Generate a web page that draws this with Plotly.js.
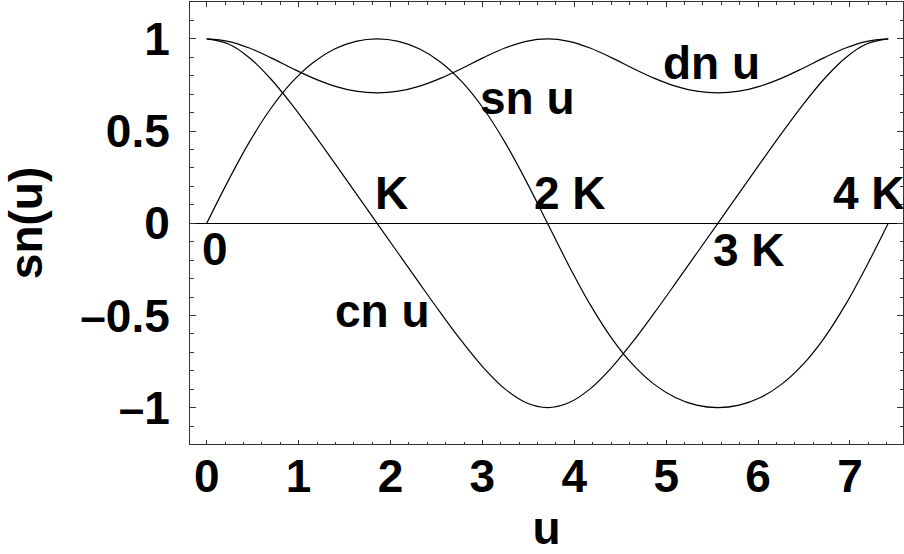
<!DOCTYPE html>
<html>
<head>
<meta charset="utf-8">
<script src="https://cdn.plot.ly/plotly-3.0.1.min.js"></script>
<style>html,body{margin:0;padding:0;background:#fff;}#chart{width:904px;height:554px;}</style>
</head>
<body>
<div id="chart"></div>
<script>
// u sampled at steps of K/8 (m = 1/2, K = 1.8541)
const u = [0, 0.2318, 0.4635, 0.6953, 0.9270, 1.1588, 1.3906, 1.6223, 1.8541,
  2.0858, 2.3176, 2.5494, 2.7811, 3.0129, 3.2446, 3.4764, 3.7081,
  3.9399, 4.1717, 4.4034, 4.6352, 4.8669, 5.0987, 5.3305, 5.5622,
  5.7940, 6.0257, 6.2575, 6.4893, 6.7210, 6.9528, 7.1845, 7.4163];
const snU = [0, 0.2287, 0.4400, 0.6210, 0.7654, 0.8724, 0.9449, 0.9865, 1,
  0.9865, 0.9449, 0.8724, 0.7654, 0.6210, 0.4400, 0.2287, 0,
  -0.2287, -0.4400, -0.6210, -0.7654, -0.8724, -0.9449, -0.9865, -1,
  -0.9865, -0.9449, -0.8724, -0.7654, -0.6210, -0.4400, -0.2287, 0];
const cnU = [1, 0.9735, 0.8980, 0.7838, 0.6436, 0.4888, 0.3274, 0.1638, 0,
  -0.1638, -0.3274, -0.4888, -0.6436, -0.7838, -0.8980, -0.9735, -1,
  -0.9735, -0.8980, -0.7838, -0.6436, -0.4888, -0.3274, -0.1638, 0,
  0.1638, 0.3274, 0.4888, 0.6436, 0.7838, 0.8980, 0.9735, 1];
const dnU = [1, 0.9868, 0.9504, 0.8984, 0.8409, 0.7871, 0.7440, 0.7165, 0.7071,
  0.7165, 0.7440, 0.7871, 0.8409, 0.8984, 0.9504, 0.9868, 1,
  0.9868, 0.9504, 0.8984, 0.8409, 0.7871, 0.7440, 0.7165, 0.7071,
  0.7165, 0.7440, 0.7871, 0.8409, 0.8984, 0.9504, 0.9868, 1];

const xTickVals = [0, 1, 2, 3, 4, 5, 6, 7];
const xTickText = ['0', '1', '2', '3', '4', '5', '6', '7'];
const yTickVals = [-1, -0.5, 0, 0.5, 1];
const yTickText = ['\u20131', '\u20130.5', '0', '0.5', '1'];

// curve / point labels
const labelText = ['0', 'K', '2 K', '3 K', '4 K', 'sn u', 'cn u', 'dn u'];
const labelX = [0.090, 2.016, 3.953, 5.896, 7.212, 3.496, 1.908, 5.493];
const labelY = [-0.14, 0.165, 0.165, -0.145, 0.165, 0.677, -0.473, 0.867];

const FONT = 'Liberation Sans, Arial, Helvetica, sans-serif';
const lineStyle = {color: '#000', width: 1.2, shape: 'spline', smoothing: 1};

const traces = [
  {x: u, y: snU, name: 'sn u', mode: 'lines', line: lineStyle, hoverinfo: 'skip'},
  {x: u, y: cnU, name: 'cn u', mode: 'lines', line: lineStyle, hoverinfo: 'skip'},
  {x: u, y: dnU, name: 'dn u', mode: 'lines', line: lineStyle, hoverinfo: 'skip'}
];

const annotations = labelText.map((t, i) => ({
  x: labelX[i], y: labelY[i], xref: 'x', yref: 'y', text: t, showarrow: false,
  xanchor: 'center', yanchor: 'middle',
  font: {family: FONT, size: 46, color: '#000', weight: 'bold'}
}));

const layout = {
  width: 904, height: 554,
  margin: {l: 190, r: 1, t: 2, b: 110},
  paper_bgcolor: '#fff', plot_bgcolor: '#fff',
  showlegend: false,
  font: {family: FONT, size: 46, color: '#000', weight: 'bold'},
  xaxis: {
    range: [-0.182, 7.577], showgrid: false, zeroline: false,
    showline: true, linecolor: '#333', linewidth: 1, mirror: 'allticks',
    ticks: 'inside', ticklen: 4.5, tickwidth: 1, tickcolor: '#333',
    tickvals: xTickVals, ticktext: xTickText, ticklabelstandoff: -8,
    tickfont: {family: FONT, size: 46, color: '#000', weight: 'bold'},
    minor: {dtick: 0.2, tick0: 0, ticks: 'inside', ticklen: 2.5, tickwidth: 1, tickcolor: '#333', showgrid: false},
    title: {text: 'u', standoff: 12, font: {family: FONT, size: 46, color: '#000', weight: 'bold'}}
  },
  yaxis: {
    range: [-1.197, 1.2], showgrid: false,
    zeroline: true, zerolinecolor: '#000', zerolinewidth: 1,
    showline: true, linecolor: '#333', linewidth: 1, mirror: 'allticks',
    ticks: 'inside', ticklen: 6, tickwidth: 1, tickcolor: '#333',
    tickvals: yTickVals, ticktext: yTickText, ticklabelstandoff: 10,
    tickfont: {family: FONT, size: 46, color: '#000', weight: 'bold'},
    minor: {dtick: 0.1, tick0: 0, ticks: 'inside', ticklen: 3.5, tickwidth: 1, tickcolor: '#333', showgrid: false},
    title: {text: 'sn(u)', standoff: 23, font: {family: FONT, size: 46, color: '#000', weight: 'bold'}}
  },
  annotations: annotations
};

Plotly.newPlot('chart', traces, layout, {staticPlot: true, displayModeBar: false});
</script>
</body>
</html>
